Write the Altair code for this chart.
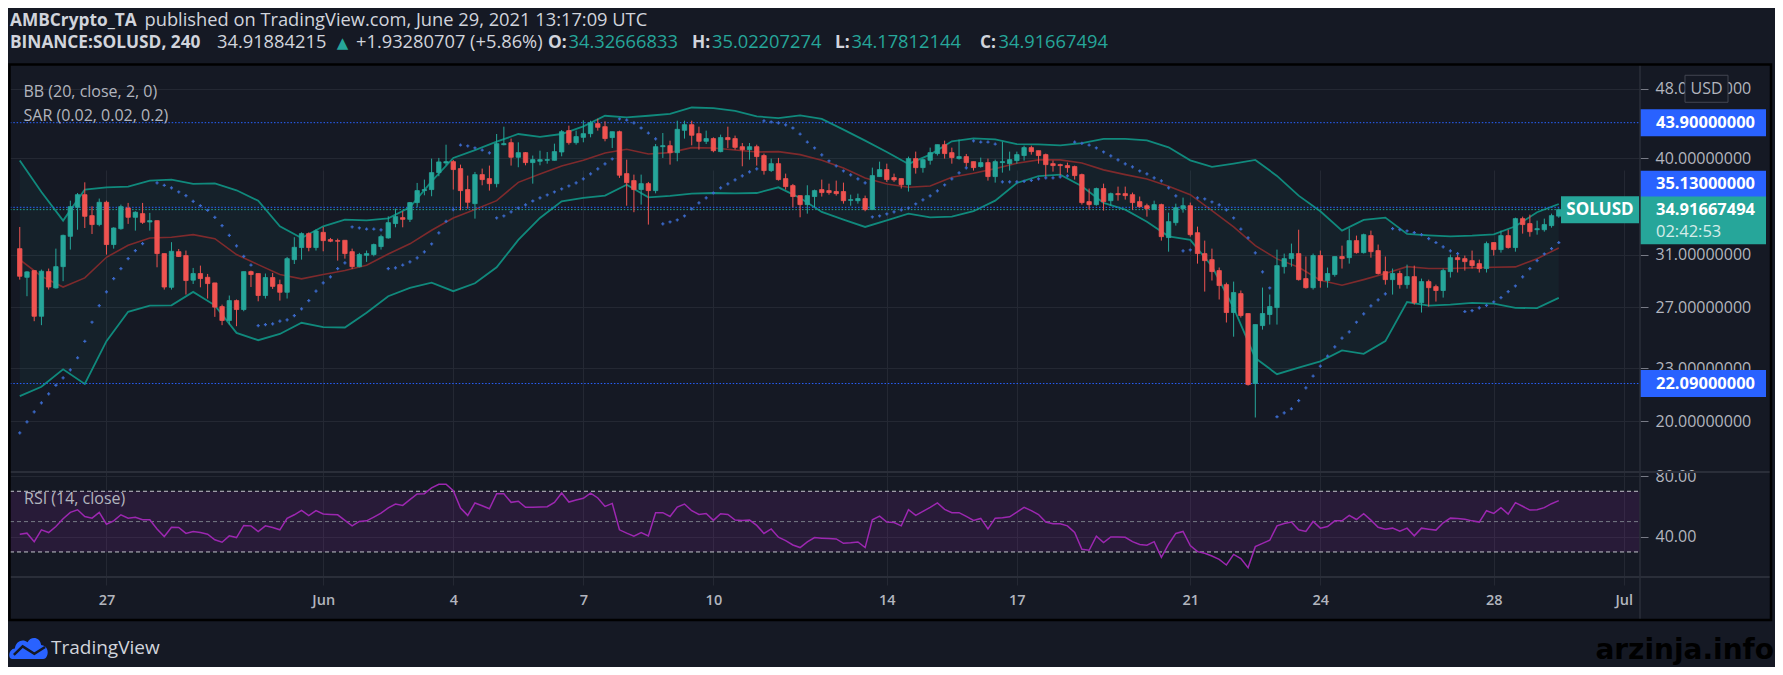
import altair as alt
import pandas as pd

# ---------------- colours / fonts ----------------
BG = "#151924"
GRID = "#242833"
SEP = "#2a2e39"
TXT = "#d1d4dc"
AXT = "#b2b5be"
TEAL = "#26a69a"
RED = "#ef5350"
BLUE = "#2962ff"
SARC = "#3a68c8"
BBC = "#10897c"
BASIS = "#7e2a2c"
RSIC = "#9c27b0"
FONT = "Open Sans"

# ---------------- data (4h candles, BINANCE:SOLUSD) ----------------
first_candle = "2021-05-25 00:00"

opens = [31.51, 29.22, 29.74, 26.37, 29.66, 28.41, 30.05, 32.55, 35.13, 36.32,
         34.37, 33.57, 35.60, 31.85, 33.21, 35.07, 34.22, 34.55, 33.80, 33.92,
         31.10, 28.46, 31.26, 30.94, 29.00, 29.51, 29.22, 28.79, 27.05, 26.08,
         27.48, 26.84, 29.66, 29.51, 27.85, 29.20, 28.66, 28.09, 30.61, 31.60,
         32.78, 31.60, 32.89, 32.27, 32.18, 32.21, 31.26, 30.05, 30.96, 31.02,
         31.68, 32.41, 33.66, 34.19, 34.04, 35.57, 36.71, 36.81, 38.49, 39.48,
         39.62, 38.90, 36.81, 35.47, 38.29, 37.89, 37.39, 41.43, 41.65, 40.08,
         40.57, 39.52, 39.66, 39.76, 39.76, 40.64, 42.99, 41.65, 42.24, 42.65,
         43.79, 43.44, 42.21, 42.87, 38.39, 37.69, 36.81, 37.39, 36.71, 41.21,
         41.32, 40.57, 43.03, 43.67, 42.65, 41.80, 42.10, 40.68, 42.21, 42.10,
         41.21, 40.89, 41.21, 40.26, 38.70, 39.41, 37.89, 37.20, 36.23, 35.38,
         36.14, 36.81, 36.71, 36.62, 36.62, 35.78, 35.75, 35.95, 34.92, 38.09,
         38.80, 37.99, 37.89, 37.29, 39.94, 39.00, 39.76, 40.47, 41.43, 40.57,
         39.94, 40.15, 39.62, 39.11, 39.52, 38.09, 39.52, 39.41, 39.73, 40.26,
         41.11, 40.78, 40.36, 39.41, 39.31, 39.21, 39.11, 38.29, 35.66, 35.38,
         36.91, 35.75, 36.42, 36.42, 36.32, 35.66, 35.28, 34.92, 35.38, 32.44,
         33.74, 35.01, 35.28, 32.86, 31.10, 30.61, 29.74, 28.66, 26.63, 27.99,
         26.56, 22.09, 25.73, 26.49, 26.98, 30.05, 30.69, 31.10, 29.12, 28.43,
         30.94, 28.97, 29.43, 30.86, 30.77, 32.18, 31.18, 32.61, 31.35, 29.66,
         29.04, 29.51, 28.66, 29.27, 27.33, 28.89, 28.51, 28.22, 29.66, 30.77,
         30.69, 30.53, 30.29, 29.90, 32.02, 31.43, 32.61, 31.60, 34.10, 33.66,
         33.12, 33.12, 33.48, 34.32666833]

highs = [33.36, 29.69, 29.74, 29.82, 29.90, 31.51, 32.69, 35.75, 36.48, 37.52,
         35.22, 35.95, 35.75, 33.33, 35.38, 35.54, 34.77, 35.54, 34.62, 33.92,
         31.10, 32.05, 31.48, 31.35, 29.95, 30.13, 29.48, 28.79, 27.19, 27.85,
         27.56, 29.66, 29.74, 29.51, 29.51, 29.56, 29.04, 30.83, 32.47, 32.89,
         32.89, 33.15, 33.36, 32.41, 32.35, 32.21, 31.51, 31.16, 31.35, 31.93,
         32.69, 34.31, 35.01, 34.77, 35.63, 37.46, 37.79, 39.94, 40.01, 41.43,
         39.80, 39.31, 38.19, 38.56, 38.90, 39.21, 42.61, 43.44, 42.10, 41.69,
         40.64, 40.26, 40.78, 40.64, 41.54, 43.06, 43.56, 42.99, 44.17, 44.13,
         44.36, 44.06, 42.87, 42.99, 39.83, 38.29, 38.29, 37.56, 41.50, 42.72,
         41.87, 44.13, 44.13, 44.13, 43.44, 42.99, 42.24, 42.54, 43.44, 42.43,
         41.61, 41.61, 41.43, 40.47, 39.94, 40.01, 38.39, 37.36, 36.23, 37.23,
         36.81, 37.79, 37.39, 37.69, 37.49, 36.32, 36.42, 36.23, 39.00, 39.62,
         39.41, 38.39, 37.89, 40.15, 40.68, 39.94, 41.11, 41.43, 41.87, 41.11,
         41.98, 40.43, 39.62, 40.04, 39.94, 39.83, 41.76, 40.68, 40.68, 41.32,
         41.32, 40.78, 40.47, 39.73, 39.41, 39.52, 39.21, 38.39, 36.91, 37.00,
         37.39, 36.52, 37.10, 37.10, 36.52, 36.14, 35.47, 35.75, 35.47, 34.64,
         35.47, 36.04, 35.57, 33.39, 32.18, 31.51, 29.98, 28.81, 28.89, 28.22,
         26.56, 25.80, 28.44, 27.92, 31.43, 31.10, 31.93, 33.12, 30.86, 31.10,
         31.35, 29.98, 30.86, 31.76, 33.24, 32.61, 32.78, 33.04, 31.85, 30.86,
         29.90, 29.74, 30.21, 30.13, 29.12, 29.04, 28.66, 29.90, 31.02, 31.10,
         30.94, 31.35, 30.61, 32.10, 32.02, 33.04, 33.12, 34.19, 34.28, 34.46,
         33.92, 34.10, 34.55, 35.02207274]

lows = [29.04, 27.80, 26.03, 25.76, 28.29, 28.36, 28.92, 31.43, 33.12, 33.27,
        32.75, 33.42, 31.02, 31.51, 33.12, 33.63, 33.04, 33.63, 33.04, 30.00,
        28.29, 28.29, 30.83, 27.92, 28.71, 28.46, 27.63, 26.33, 25.76, 25.80,
        25.69, 26.72, 28.48, 27.43, 27.63, 28.34, 27.48, 27.63, 30.26, 30.61,
        31.29, 31.35, 31.29, 32.05, 30.53, 30.69, 29.87, 30.00, 30.43, 30.88,
        31.43, 32.35, 33.33, 33.33, 33.80, 35.13, 36.26, 36.17, 38.13, 39.24,
        36.81, 34.86, 35.01, 34.10, 37.23, 36.71, 37.03, 41.36, 39.21, 39.04,
        39.24, 37.39, 39.24, 39.41, 39.73, 40.18, 41.43, 41.43, 41.69, 42.24,
        42.99, 41.80, 41.07, 37.96, 35.28, 34.68, 35.38, 33.57, 36.45, 40.01,
        39.31, 39.66, 42.10, 41.36, 40.89, 41.50, 40.61, 40.61, 41.07, 40.89,
        39.14, 39.83, 39.21, 38.29, 38.56, 37.69, 36.81, 35.13, 34.22, 34.55,
        35.13, 36.14, 36.32, 36.23, 35.47, 35.28, 35.47, 34.77, 34.92, 38.09,
        37.56, 37.56, 36.91, 36.62, 38.39, 38.49, 39.31, 40.26, 39.94, 39.41,
        39.83, 39.07, 38.70, 39.00, 37.69, 37.49, 38.49, 38.70, 39.41, 39.73,
        40.36, 39.41, 38.09, 38.59, 38.19, 38.49, 37.79, 35.38, 34.92, 35.28,
        34.83, 35.28, 35.75, 35.85, 34.92, 35.10, 34.28, 34.92, 32.18, 31.26,
        33.48, 34.64, 32.52, 30.29, 28.14, 28.97, 27.56, 25.94, 24.99, 26.28,
        21.97, 20.20, 25.46, 25.80, 25.80, 29.51, 30.05, 28.97, 28.36, 28.29,
        28.43, 28.43, 29.27, 29.90, 30.29, 31.10, 31.10, 30.77, 29.43, 28.66,
        27.92, 28.36, 28.36, 27.19, 26.63, 27.05, 27.41, 27.70, 29.20, 29.59,
        29.74, 29.90, 29.59, 29.59, 30.94, 31.18, 31.51, 31.26, 32.78, 32.52,
        32.69, 32.95, 33.30, 34.17812144]

closes = [29.30, 29.64, 26.37, 29.69, 28.48, 30.05, 32.63, 35.19, 36.32, 34.31,
          33.57, 35.60, 31.85, 33.27, 35.19, 34.22, 34.68, 33.77, 33.92, 31.10,
          28.48, 31.29, 30.86, 28.97, 29.51, 29.12, 28.74, 27.01, 26.08, 27.48,
          26.84, 29.66, 29.43, 27.85, 29.20, 28.53, 28.09, 30.69, 31.62, 32.78,
          31.60, 33.01, 32.18, 32.13, 32.13, 31.10, 30.05, 31.02, 31.10, 31.85,
          32.52, 33.74, 34.28, 34.04, 35.57, 36.71, 36.81, 38.49, 39.59, 39.62,
          38.80, 36.71, 35.60, 38.29, 37.79, 37.39, 41.54, 41.54, 40.08, 40.57,
          39.52, 39.83, 39.83, 39.83, 40.68, 42.87, 41.65, 42.32, 42.65, 43.90,
          43.37, 42.10, 42.87, 38.23, 37.49, 36.81, 37.39, 36.71, 41.21, 41.32,
          40.57, 43.14, 43.67, 42.47, 41.80, 42.10, 40.78, 42.21, 41.98, 41.14,
          40.89, 41.21, 40.15, 38.70, 39.41, 37.79, 37.10, 36.14, 35.38, 36.23,
          36.71, 36.52, 36.52, 36.42, 35.75, 35.85, 35.95, 34.92, 38.19, 38.80,
          37.79, 37.76, 37.29, 39.94, 39.00, 39.83, 40.57, 41.43, 40.47, 40.04,
          40.15, 39.52, 39.00, 39.52, 38.09, 39.62, 39.62, 39.83, 40.36, 41.11,
          40.68, 40.26, 39.31, 39.21, 39.21, 39.00, 38.19, 35.57, 35.38, 36.91,
          35.66, 36.42, 36.32, 36.23, 35.57, 35.19, 35.01, 35.38, 32.52, 33.83,
          35.10, 35.28, 32.69, 31.10, 30.53, 29.66, 28.59, 26.63, 28.07, 26.42,
          22.03, 25.80, 26.56, 27.05, 30.13, 30.69, 31.10, 29.04, 28.43, 30.94,
          28.97, 29.51, 30.86, 30.69, 32.18, 31.18, 32.69, 31.26, 29.51, 29.04,
          29.51, 28.66, 29.27, 27.33, 28.89, 28.43, 28.22, 29.74, 30.77, 30.61,
          30.45, 30.13, 29.90, 31.93, 31.43, 32.61, 31.60, 34.10, 33.57, 32.95,
          33.21, 33.57, 34.37, 34.91667494]

sar = [19.40, 19.97, 20.50, 20.99, 21.50, 21.99, 22.42, 22.90, 23.64, 24.69,
       25.96, 27.12, 28.12, 29.12, 29.90, 30.69, 31.35, 31.93, None, 37.46,
       37.23, 36.97, 36.58, 36.23, 35.69, 35.28, 34.86, 34.22, 33.48, 32.63,
       31.74, 30.88, 30.18, 25.73, 25.80, 25.85, 26.03, 26.12, 26.42, 26.89,
       27.48, 28.17, 28.79, 29.25, 29.90, 30.35, 33.36, 33.27, 33.18, 33.18,
       33.10, 29.90, 29.95, 30.18, 30.43, 30.75, 31.24, 31.90, 32.84, 33.86,
       34.92, 41.39, 41.29, 41.07, 40.85, 40.54, 34.16, 34.34, 34.71, 35.07,
       35.35, 35.72, 36.01, 36.29, 36.58, 36.87, 37.16, 37.46, 37.86, 38.36,
       38.87, 39.38, 39.90, 44.33, 44.21, 43.87, 43.29, 42.72, 42.06, 33.63,
       33.80, 33.98, 34.34, 34.98, 35.54, 36.01, 36.48, 36.97, 37.36, 37.76,
       38.16, 38.56, 38.87, 44.10, 43.98, 43.87, 43.64, 43.29, 42.61, 41.72,
       41.07, 40.33, 39.69, 39.17, 38.66, 38.26, 37.86, 37.46, 34.25, 34.34,
       34.52, 34.71, 34.89, 35.07, 35.44, 35.82, 36.20, 36.68, 37.26, 37.86,
       38.46, 38.97, 41.84, 41.72, 41.72, 41.50, 37.56, 37.56, 37.56, 37.62,
       37.72, 37.86, 37.96, 37.96, 38.06, 38.16, 41.72, 41.58, 41.39, 41.07,
       40.64, 40.22, 39.80, 39.38, 39.07, 38.66, 38.36, 37.96, 37.66, 36.97,
       36.20, 31.32, 31.40, 36.01, 35.91, 35.63, 35.35, 34.89, 34.16, 33.18,
       32.41, 31.16, 29.64, 28.41, 20.24, 20.45, 20.67, 21.12, 21.84, 22.53,
       23.13, 23.75, 24.33, 24.89, 25.31, 25.96, 26.54, 27.10, 27.53, 27.97,
       33.21, 33.12, 33.01, 32.86, 32.69, 32.35, 32.02, 31.65, 31.32, 31.10,
       26.70, 26.77, 26.96, 27.14, 27.38, 27.70, 28.14, 28.56, 29.25, 29.90,
       30.53, 31.07, 31.51, 32.02]

rsi = [41.7, 42.4, 36.8, 44.6, 42.8, 46.8, 51.9, 56.1, 57.8, 53.4,
       52.3, 56.1, 48.3, 50.5, 54.5, 52.3, 52.8, 51.2, 51.2, 45.2,
       40.2, 46.3, 46.1, 42.2, 43.5, 42.8, 41.7, 38.0, 36.4, 40.6,
       39.5, 47.5, 47.2, 43.5, 47.2, 46.1, 44.6, 52.1, 54.5, 57.4,
       53.9, 57.2, 55.0, 54.7, 54.5, 50.8, 47.2, 50.1, 50.5, 53.0,
       55.6, 59.0, 61.6, 60.7, 64.5, 68.2, 68.4, 72.2, 74.6, 74.6,
       70.4, 59.0, 54.1, 62.3, 60.5, 58.5, 68.4, 68.4, 62.7, 63.4,
       59.4, 59.4, 59.6, 59.8, 62.7, 68.9, 62.9, 64.3, 65.4, 68.7,
       65.6, 60.0, 62.0, 44.6, 42.4, 40.4, 42.8, 40.6, 55.9, 55.9,
       53.4, 59.6, 61.6, 57.2, 54.7, 55.4, 50.8, 55.2, 54.7, 51.0,
       50.8, 51.0, 47.5, 42.2, 45.2, 39.7, 37.5, 34.6, 32.9, 36.6,
       39.5, 39.1, 38.8, 38.6, 35.7, 36.0, 36.6, 32.9, 51.2, 53.6,
       49.7, 49.4, 47.2, 57.8, 54.1, 56.7, 59.4, 62.3, 58.1, 55.9,
       55.9, 53.4, 50.8, 52.1, 45.2, 52.3, 52.5, 53.2, 56.3, 59.4,
       57.2, 54.7, 49.7, 48.6, 48.6, 47.2, 42.8, 31.8, 31.1, 40.4,
       36.2, 39.9, 39.9, 39.7, 36.8, 34.9, 34.4, 36.8, 26.5, 35.1,
       42.2, 43.5, 34.2, 30.2, 29.1, 27.3, 25.1, 21.4, 28.4, 25.6,
       19.6, 33.5, 35.7, 37.7, 47.2, 48.8, 49.7, 44.6, 43.5, 50.1,
       45.7, 46.8, 50.5, 50.5, 54.1, 51.4, 55.2, 51.0, 46.3, 45.0,
       45.7, 43.7, 45.7, 40.6, 45.7, 45.0, 44.4, 49.2, 52.3, 52.1,
       51.6, 50.5, 49.7, 57.2, 55.4, 59.2, 55.0, 62.5, 60.1, 57.6,
       57.8, 59.2, 61.8, 63.8]

# Bollinger band readings (every 3rd candle + last candle)
bb_idx = list(range(0, 211, 3)) + [213]
bb_upper = [39.73, 36.58, 33.92, 36.81, 37.03, 37.10, 37.69, 37.79, 37.36, 37.42,
            36.74, 35.75, 33.42, 32.41, 33.42, 34.01, 33.95, 34.13, 35.13, 37.62,
            40.01, 40.85, 41.76, 42.61, 42.28, 42.61, 43.48, 44.71, 44.52, 44.71,
            44.94, 45.69, 45.61, 45.29, 44.63, 44.44, 44.75, 44.33, 43.10, 41.87,
            40.64, 39.38, 40.36, 41.80, 42.13, 42.02, 41.50, 41.47, 41.36, 41.61,
            42.06, 42.06, 41.91, 41.14, 39.76, 39.07, 39.41, 39.80, 38.16, 36.23,
            34.77, 33.04, 33.98, 34.19, 32.75, 32.63, 32.55, 32.61, 32.72, 33.42,
            34.68, 35.44]
bb_basis = [30.61, 29.30, 28.48, 29.17, 30.80, 31.79, 32.41, 32.47, 32.69, 32.35,
            31.02, 30.21, 29.43, 29.10, 29.43, 29.74, 30.16, 31.07, 31.91, 33.07,
            34.16, 34.92, 35.75, 37.52, 38.36, 39.17, 39.76, 40.54, 40.93, 40.43,
            40.57, 41.11, 41.07, 40.85, 40.64, 40.68, 40.36, 39.76, 38.97, 37.96,
            37.36, 37.03, 37.16, 38.02, 38.43, 38.90, 39.45, 39.80, 39.80, 39.48,
            38.77, 38.29, 37.86, 37.13, 36.32, 34.83, 33.36, 31.76, 30.67, 30.00,
            28.99, 28.61, 29.04, 29.51, 30.05, 29.90, 29.90, 29.95, 30.00, 30.03,
            30.69, 31.57]
bb_lower = [21.37, 21.90, 22.93, 22.07, 24.70, 26.68, 27.12, 27.14, 28.12, 27.14,
            25.24, 24.76, 25.17, 25.92, 25.62, 25.60, 26.61, 27.80, 28.41, 28.81,
            28.17, 28.76, 30.00, 32.24, 34.16, 35.69, 36.01, 36.23, 37.29, 36.07,
            36.20, 36.42, 36.48, 36.45, 36.48, 37.03, 36.01, 34.71, 34.01, 33.36,
            33.95, 34.55, 34.22, 34.28, 34.77, 35.75, 37.46, 38.13, 38.29, 37.13,
            35.54, 34.92, 33.83, 32.55, 32.24, 30.08, 26.96, 23.62, 22.64, 23.04,
            23.42, 24.10, 23.89, 24.70, 27.38, 27.12, 27.19, 27.31, 27.26, 26.96,
            26.94, 27.68]

level_prices = [43.90, 35.13, 22.09]
level_labels = ["43.90000000", "35.13000000", "22.09000000"]
last_price = 34.91667494
price_ticks = [20, 23, 27, 31, 40, 48]
rsi_ticks = [40, 80]
rsi_levels = [70, 30]
rsi_mid = [50]
day_ticks = [(5, 27), (6, 1), (6, 4), (6, 7), (6, 10), (6, 14), (6, 17),
             (6, 21), (6, 24), (6, 28), (7, 1)]

# ---------------- frames ----------------
n = len(closes)
t0 = pd.Timestamp(first_candle)
times = [(t0 + pd.Timedelta(hours=4 * i)).strftime("%Y-%m-%dT%H:%M:%SZ") for i in range(n)]
candles = pd.DataFrame({"t": times, "o": opens, "h": highs, "l": lows, "c": closes})
candles["dir"] = ["up" if c >= o else "down" for o, c in zip(opens, closes)]
sar_df = pd.DataFrame({"t": times, "s": sar}).dropna()
rsi_df = pd.DataFrame({"t": times, "r": rsi})
bb = pd.DataFrame({"t": [times[i] for i in bb_idx], "upper": bb_upper,
                   "basis": bb_basis, "lower": bb_lower})
levels = pd.DataFrame({"p": level_prices, "label": level_labels})
one = pd.DataFrame({"k": [0]})

# ---------------- geometry ----------------
W = 1630          # plot width (price area)
H = 512           # plot height (price pane + RSI pane)
PB = 407          # bottom of price pane
RIGHT = 1761      # right edge of the chart frame
BOTTOM = 555      # bottom edge of the chart frame


def DT(mo, d, h=0, mi=0):
    return alt.DateTime(year=2021, month=mo, date=d, hours=h, minutes=mi, utc=True)


x_scale = alt.Scale(type="utc", domain=[DT(5, 24, 21, 22), DT(7, 1, 6, 12)])
x_axis = alt.Axis(values=[DT(m, d) for m, d in day_ticks],
                  labelExpr="utcdate(datum.value) == 1 ? utcFormat(datum.value, '%b') : utcFormat(datum.value, '%-d')",
                  title=None, grid=True, gridColor=GRID, gridWidth=1, domain=False,
                  ticks=True, tickColor=GRID, tickSize=8, labelColor=AXT, labelFont=FONT,
                  labelFontSize=14.5, labelFontWeight=600, labelPadding=8, labelFlush=False,
                  labelOverlap=False)


def X(field="t"):
    return alt.X(f"{field}:T", scale=x_scale, axis=x_axis)


price_scale = alt.Scale(type="log", domain=[17.5, 51.1], range=[PB, 0], nice=False)
price_axis = alt.Axis(orient="right", values=price_ticks, format=".8f", title=None,
                      grid=True, gridColor=GRID, domain=False, tickColor="#787b86",
                      tickSize=8, labelPadding=7, labelColor=AXT, labelFont=FONT,
                      labelFontSize=16, labelFlush=False, labelOverlap=False)


def PY(field):
    return alt.Y(f"{field}:Q", scale=price_scale, axis=price_axis)


rsi_scale = alt.Scale(domain=[13.5, 82.7], range=[H, PB], nice=False, zero=False)
rsi_axis = alt.Axis(orient="right", values=rsi_ticks, format=".2f", title=None,
                    grid=True, gridColor=GRID, domain=False, tickColor="#787b86",
                    tickSize=8, labelPadding=7, labelColor=AXT, labelFont=FONT,
                    labelFontSize=16, labelFlush=False, labelOverlap=False)


def RY(field):
    return alt.Y(f"{field}:Q", scale=rsi_scale, axis=rsi_axis)


dir_color = alt.Color("dir:N", scale=alt.Scale(domain=["up", "down"], range=[TEAL, RED]), legend=None)
dir_stroke = alt.Stroke("dir:N", scale=alt.Scale(domain=["up", "down"], range=[TEAL, RED]), legend=None)


def rect_path(hw, hh):
    r = hh / hw
    return f"M-1,{-r:.4f}L1,{-r:.4f}L1,{r:.4f}L-1,{r:.4f}Z"


def text(t, x, y, size=16, color=TXT, weight="normal", align="left", baseline="middle", font=FONT):
    return alt.Chart(one).mark_text(text=t, align=align, baseline=baseline, fontSize=size,
                                    font=font, fontWeight=weight, color=color).encode(
        x=alt.value(x), y=alt.value(y))


# ---------------- price pane ----------------
bb_area = alt.Chart(bb).mark_area(color=TEAL, opacity=0.06).encode(x=X(), y=PY("lower"), y2=alt.Y2("upper"))
bb_up = alt.Chart(bb).mark_line(color=BBC, strokeWidth=1.8).encode(x=X(), y=PY("upper"))
bb_lo = alt.Chart(bb).mark_line(color=BBC, strokeWidth=1.8).encode(x=X(), y=PY("lower"))
bb_mid = alt.Chart(bb).mark_line(color=BASIS, strokeWidth=1.6).encode(x=X(), y=PY("basis"))

lvl_lines = alt.Chart(levels).mark_rule(color=BLUE, strokeDash=[1.5, 1.8], strokeWidth=1).encode(
    y=PY("p"), x=alt.value(0), x2=alt.value(W))
last_df = pd.DataFrame({"p": [last_price]})
last_line = alt.Chart(last_df).mark_rule(color=TEAL, strokeDash=[1.5, 1.8], strokeWidth=1).encode(
    y=PY("p"), x=alt.value(0), x2=alt.value(W))

wicks = alt.Chart(candles).mark_rule(strokeWidth=1).encode(x=X(), y=PY("l"), y2=alt.Y2("h"), color=dir_color)
bodies = alt.Chart(candles).mark_bar(size=4.4, strokeWidth=0.8).encode(
    x=X(), y=PY("o"), y2=alt.Y2("c"), color=dir_color, stroke=dir_stroke)
sar_pts = alt.Chart(sar_df).mark_point(shape="cross", filled=True, size=10, color=SARC, opacity=1).encode(
    x=X(), y=PY("s"))

TAG_X = 1693
TAG_HW = 63
tag_shape = rect_path(TAG_HW, 13.5)
lv_fixed = levels[levels["p"] != 35.13]
lv_shift = levels[levels["p"] == 35.13]
tag1 = alt.Chart(lv_fixed).mark_point(shape=tag_shape, filled=True, size=(2 * TAG_HW) ** 2,
                                      color=BLUE, opacity=1, strokeWidth=0).encode(x=alt.value(TAG_X), y=PY("p"))
tag1t = alt.Chart(lv_fixed).mark_text(align="left", baseline="middle", fontSize=16.5, font=FONT,
                                      fontWeight="bold", color="#ffffff").encode(
    x=alt.value(1646), y=PY("p"), text="label:N")
tag2 = alt.Chart(lv_shift).mark_point(shape=tag_shape, filled=True, size=(2 * TAG_HW) ** 2, yOffset=-23,
                                      color=BLUE, opacity=1, strokeWidth=0).encode(x=alt.value(TAG_X), y=PY("p"))
tag2t = alt.Chart(lv_shift).mark_text(align="left", baseline="middle", fontSize=16.5, font=FONT, yOffset=-23,
                                      fontWeight="bold", color="#ffffff").encode(
    x=alt.value(1646), y=PY("p"), text="label:N")

cur_tag = alt.Chart(last_df).mark_point(shape=rect_path(TAG_HW, 23.8), filled=True, size=(2 * TAG_HW) ** 2,
                                        yOffset=10.7, color=TEAL, opacity=1, strokeWidth=0).encode(
    x=alt.value(TAG_X), y=PY("p"))
cur_t1 = alt.Chart(last_df).mark_text(text="34.91667494", align="left", baseline="middle", fontSize=16.5,
                                      font=FONT, fontWeight="bold", color="#ffffff", yOffset=0.5).encode(
    x=alt.value(1646), y=PY("p"))
cur_t2 = alt.Chart(last_df).mark_text(text="02:42:53", align="left", baseline="middle", fontSize=16.5,
                                      font=FONT, color="#ffffff", opacity=0.8, yOffset=22).encode(
    x=alt.value(1646), y=PY("p"))
sym_tag = alt.Chart(last_df).mark_point(shape=rect_path(39, 13.5), filled=True, size=78 ** 2,
                                        color=TEAL, opacity=1, strokeWidth=0).encode(
    x=alt.value(1590), y=PY("p"))
sym_t = alt.Chart(last_df).mark_text(text="SOLUSD", align="center", baseline="middle", fontSize=17,
                                     font=FONT, fontWeight="bold", color="#ffffff").encode(
    x=alt.value(1590), y=PY("p"))

usd_df = pd.DataFrame({"p": [48.0]})
usd_box = alt.Chart(usd_df).mark_point(shape=rect_path(21.5, 13.5), filled=True, size=43 ** 2,
                                       color=BG, opacity=1, stroke="#434651", strokeWidth=1).encode(
    x=alt.value(1696.5), y=PY("p"))
usd_t = alt.Chart(usd_df).mark_text(text="USD", align="center", baseline="middle", fontSize=16,
                                    font=FONT, color=AXT).encode(x=alt.value(1696.5), y=PY("p"))

price = alt.layer(bb_area, bb_up, bb_lo, bb_mid, lvl_lines, last_line, wicks, bodies, sar_pts,
                  tag1, tag1t, tag2, tag2t, cur_tag, cur_t1, cur_t2, sym_tag, sym_t, usd_box, usd_t)

# ---------------- RSI pane ----------------
band_df = pd.DataFrame({"hi": [rsi_levels[0]], "lo": [rsi_levels[1]]})
band = alt.Chart(band_df).mark_rect(color=RSIC, opacity=0.15).encode(
    x=alt.value(0), x2=alt.value(W), y=RY("hi"), y2=alt.Y2("lo"))
lv_df = pd.DataFrame({"v": rsi_levels})
rsi_lv = alt.Chart(lv_df).mark_rule(color="#c3c5cc", strokeDash=[4, 3], strokeWidth=1).encode(
    y=RY("v"), x=alt.value(0), x2=alt.value(W))
mid_df = pd.DataFrame({"v": rsi_mid})
rsi_mid_l = alt.Chart(mid_df).mark_rule(color="#787b86", strokeDash=[4, 3], strokeWidth=1).encode(
    y=RY("v"), x=alt.value(0), x2=alt.value(W))
rsi_line = alt.Chart(rsi_df).mark_line(color=RSIC, strokeWidth=1.5).encode(x=X(), y=RY("r"))

rsi_pane = alt.layer(band, rsi_lv, rsi_mid_l, rsi_line)

# ---------------- decorations ----------------
sep1 = alt.Chart(one).mark_rule(color=SEP, strokeWidth=2).encode(
    x=alt.value(0), x2=alt.value(RIGHT), y=alt.value(PB))
sep2 = alt.Chart(one).mark_rule(color=SEP, strokeWidth=2).encode(
    x=alt.value(0), x2=alt.value(RIGHT), y=alt.value(H))
sep3 = alt.Chart(one).mark_rule(color=SEP, strokeWidth=1.5).encode(
    x=alt.value(W), y=alt.value(0), y2=alt.value(BOTTOM))
frame = alt.Chart(one).mark_rect(fillOpacity=0, stroke="#000000", strokeWidth=2.5).encode(
    x=alt.value(-0.5), x2=alt.value(RIGHT), y=alt.value(-0.5), y2=alt.value(BOTTOM))

L1, L2 = -44.0, -21.7
head = [
    text("AMBCrypto_TA", 0, L1, size=17.3, weight="bold"),
    text("published on TradingView.com, June 29, 2021 13:17:09 UTC", 134.5, L1, size=18.3),
    text("BINANCE:SOLUSD, 240", 0, L2, size=17.3, weight="bold"),
    text("34.91884215", 207, L2, size=18.3),
    text("▲", 332.5, L2, size=15, color=TEAL, align="center", font="DejaVu Sans"),
    text("+1.93280707 (+5.86%)", 346, L2, size=18.3),
]
ohlc = [("O:", "34.32666833", 538, 20.5), ("H:", "35.02207274", 682, 20),
        ("L:", "34.17812144", 825, 16.5), ("C:", "34.91667494", 970, 18.5)]
for lab, val, x0, dx in ohlc:
    head.append(text(lab, x0, L2, size=17.3, weight="bold"))
    head.append(text(val, x0 + dx, L2, size=18.3, color=TEAL))

legend_txt = [
    text("BB (20, close, 2, 0)", 13.5, 27, size=16, color=AXT),
    text("SAR (0.02, 0.02, 0.2)", 13.5, 51, size=16, color=AXT),
    text("RSI (14, close)", 14, 433.5, size=16, color=AXT),
]

cloud = ("M-0.85,0.56 C-1.05,0.56 -1.05,0.05 -0.7,0.02 C-0.65,-0.35 -0.3,-0.5 -0.05,-0.3 "
         "C0.1,-0.62 0.6,-0.6 0.65,-0.15 C0.95,-0.12 1.05,0.2 0.95,0.4 C0.9,0.52 0.85,0.56 0.75,0.56 Z")
zig = "M-0.75,0.35 L-0.3,-0.08 L0.3,0.3 L0.85,-0.05"
logo1 = alt.Chart(one).mark_point(shape=cloud, filled=True, size=39 ** 2, color=BLUE, opacity=1,
                                  strokeWidth=0).encode(x=alt.value(18.5), y=alt.value(583))
logo2 = alt.Chart(one).mark_point(shape=zig, filled=False, size=39 ** 2, color=BG, opacity=1,
                                  strokeWidth=2.5).encode(x=alt.value(18.5), y=alt.value(583))
logo_t = text("TradingView", 41, 583, size=19, color=TXT)
water = text("arzinja.info", 1764, 594, size=28, color="#000000", weight="bold", align="right",
             baseline="alphabetic", font="DejaVu Sans")

deco = alt.layer(sep1, sep2, sep3, frame, *head, *legend_txt, logo1, logo2, logo_t, water)

chart = alt.layer(price, rsi_pane, deco).resolve_scale(y="independent").properties(
    width=W, height=H,
    padding={"left": 2, "top": 57, "right": 135, "bottom": 90},
    autosize=alt.AutoSizeParams(type="none"),
    background=BG,
).configure_view(stroke=None)

chart.save("out.html", embed_options={"renderer": "svg", "actions": False})
